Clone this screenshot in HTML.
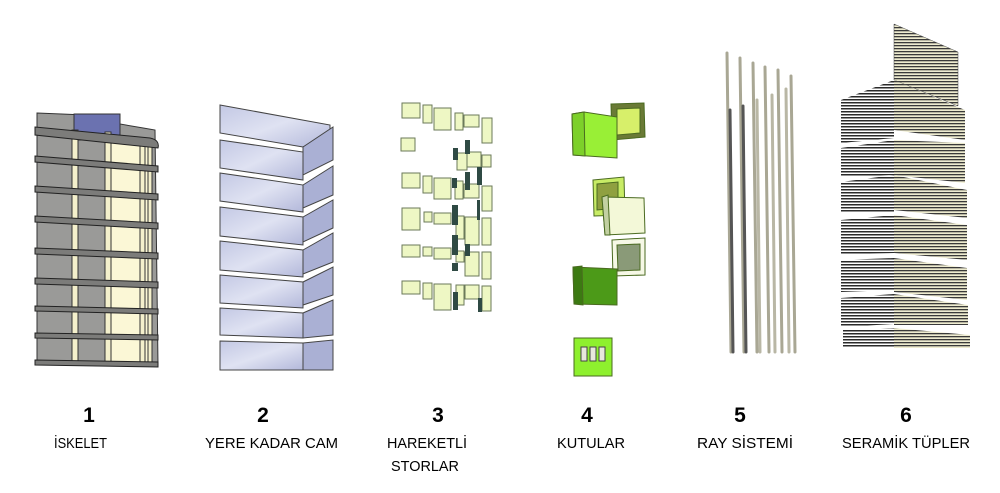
<!DOCTYPE html>
<html><head><meta charset="utf-8"><style>
html,body{margin:0;padding:0;background:#fff;}
svg{display:block}
.n{font-family:"Liberation Sans",sans-serif;font-weight:bold;font-size:21px;fill:#000;text-anchor:middle}
.t{font-family:"Liberation Sans",sans-serif;font-size:15px;fill:#000}
</style></head><body>
<svg width="1000" height="493" viewBox="0 0 1000 493" xmlns="http://www.w3.org/2000/svg">
<defs>
<linearGradient id="gl" x1="0" y1="0" x2="1" y2="1">
<stop offset="0" stop-color="#c3c8e4"/><stop offset=".5" stop-color="#dfe2f2"/><stop offset="1" stop-color="#b3b8da"/>
</linearGradient>
<pattern id="st" width="6" height="3" patternUnits="userSpaceOnUse"><rect width="6" height="3" fill="#fff"/><rect y="0" width="6" height="1.5" fill="#2a2a2a"/></pattern>
<pattern id="st2" width="6" height="3" patternUnits="userSpaceOnUse"><rect width="6" height="3" fill="#eeecd0"/><rect y="0" width="6" height="1.3" fill="#3a3a3a"/></pattern>
</defs>

<!-- Panel 1 -->
<g stroke="#333" stroke-width="1">
<path d="M37 113 L110 116 Q120 118 120 124 L155 130 L158 365 L37 362 Z" fill="#9a9a98"/>
<path d="M110 140 L150 142 L152 362 L110 362 Z" fill="#fbf7d6"/>
<rect x="74" y="114" width="46" height="26" fill="#6b72b0"/>
<rect x="72" y="130" width="6" height="232" fill="#f4f0cc"/>
<rect x="105" y="132" width="6" height="230" fill="#f4f0cc"/>
<rect x="140" y="140" width="5" height="224" fill="#f4f0cc"/>
<rect x="148" y="145" width="4" height="220" fill="#f4f0cc"/>
</g>
<g fill="#7c7c7a" stroke="#222" stroke-width="1">
<path d="M35 127 L150 138 Q160 140 158 148 L35 135 Z"/>
<path d="M35 156 L158 166 L158 172 L35 162 Z"/>
<path d="M35 186 L158 194 L158 200 L35 192 Z"/>
<path d="M35 216 L158 223 L158 229 L35 222 Z"/>
<path d="M35 248 L158 253 L158 259 L35 254 Z"/>
<path d="M35 278 L158 282 L158 288 L35 284 Z"/>
<path d="M35 306 L158 309 L158 314 L35 311 Z"/>
<path d="M35 333 L158 335 L158 340 L35 338 Z"/>
<path d="M35 360 L158 362 L158 367 L35 365 Z"/>
</g>

<!-- Panel 2 -->
<g stroke="#444" stroke-width="1" fill="url(#gl)">
<path d="M220 105 L330 125 L330 135 L303 147 L220 133 Z"/>
<path d="M220 140 L303 152 L303 180 L220 168 Z"/>
<path d="M220 173 L303 185 L303 212 L220 201 Z"/>
<path d="M220 207 L303 217 L303 245 L220 236 Z"/>
<path d="M220 241 L303 250 L303 277 L220 270 Z"/>
<path d="M220 275 L303 282 L303 308 L220 303 Z"/>
<path d="M220 308 L303 313 L303 338 L220 335 Z"/>
<path d="M220 341 L303 343 L303 370 L220 370 Z"/>
<path d="M303 147 L333 127 L333 160 L303 175 Z" fill="#aab0d4"/>
<path d="M303 185 L333 166 L333 195 L303 208 Z" fill="#aab0d4"/>
<path d="M303 217 L333 200 L333 228 L303 242 Z" fill="#aab0d4"/>
<path d="M303 250 L333 233 L333 262 L303 274 Z" fill="#aab0d4"/>
<path d="M303 282 L333 267 L333 295 L303 305 Z" fill="#aab0d4"/>
<path d="M303 313 L333 300 L333 335 L303 338 Z" fill="#aab0d4"/>
<path d="M303 343 L333 340 L333 370 L303 370 Z" fill="#aab0d4"/>
</g>

<!-- Panel 3 -->
<g fill="#eef7c4" stroke="#6b7a5a" stroke-width="1">
<rect x="402" y="103" width="18" height="15"/><rect x="423" y="105" width="9" height="18"/><rect x="434" y="108" width="17" height="22"/><rect x="455" y="113" width="8" height="17"/><rect x="464" y="115" width="15" height="12"/><rect x="482" y="118" width="10" height="25"/>
<rect x="401" y="138" width="14" height="13"/>
<rect x="457" y="153" width="10" height="17"/><rect x="467" y="152" width="14" height="15"/><rect x="482" y="155" width="9" height="12"/>
<rect x="402" y="173" width="18" height="15"/><rect x="423" y="176" width="9" height="17"/><rect x="434" y="178" width="17" height="21"/><rect x="455" y="181" width="8" height="18"/><rect x="464" y="184" width="15" height="14"/><rect x="482" y="186" width="10" height="25"/>
<rect x="402" y="208" width="18" height="22"/><rect x="424" y="212" width="8" height="10"/><rect x="434" y="213" width="17" height="11"/><rect x="456" y="216" width="8" height="23"/><rect x="465" y="217" width="14" height="28"/><rect x="482" y="218" width="9" height="27"/>
<rect x="402" y="245" width="18" height="12"/><rect x="423" y="247" width="9" height="9"/><rect x="434" y="248" width="17" height="11"/><rect x="456" y="251" width="8" height="11"/><rect x="465" y="252" width="14" height="24"/><rect x="482" y="252" width="9" height="27"/>
<rect x="402" y="281" width="18" height="13"/><rect x="423" y="283" width="9" height="16"/><rect x="434" y="284" width="17" height="26"/><rect x="456" y="285" width="8" height="20"/><rect x="465" y="285" width="14" height="14"/><rect x="482" y="286" width="9" height="25"/>
</g>
<g fill="#2f4a44">
<rect x="453" y="148" width="5" height="12"/><rect x="465" y="140" width="5" height="14"/><rect x="452" y="178" width="5" height="10"/><rect x="465" y="172" width="5" height="18"/><rect x="477" y="167" width="5" height="18"/><rect x="477" y="200" width="3" height="20"/><rect x="452" y="205" width="6" height="20"/><rect x="452" y="235" width="6" height="20"/><rect x="465" y="244" width="5" height="12"/><rect x="452" y="263" width="6" height="8"/><rect x="453" y="292" width="5" height="18"/><rect x="478" y="298" width="4" height="14"/>
</g>

<!-- Panel 4 -->
<g stroke="#4a6a20" stroke-width="1">
<path d="M611 104 L644 103 L645 137 L612 140 Z" fill="#6a7a36"/><path d="M617 109 L640 108 L640 133 L617 135 Z" fill="#d7ef6a"/>
<path d="M572 114 L584 112 L617 117 L617 158 L573 155 Z" fill="#99ef36"/><path d="M572 114 L584 112 L585 156 L573 155 Z" fill="#7dd02a"/>
<path d="M593 180 L624 177 L625 215 L594 216 Z" fill="#c8ec66"/><path d="M597 184 L618 182 L618 208 L597 210 Z" fill="#8fa040"/>
<path d="M602 197 L644 198 L645 233 L605 235 Z" fill="#f3f8d8"/><path d="M602 197 L608 195 L610 235 L605 235 Z" fill="#c2d0a2"/>
<path d="M612 240 L645 238 L645 275 L613 276 Z" fill="#f6f8e6"/><path d="M617 245 L640 244 L640 270 L618 271 Z" fill="#8a9a78"/>
<path d="M573 267 L617 269 L617 305 L574 304 Z" fill="#4c9a18"/><path d="M573 267 L582 266 L583 305 L574 304 Z" fill="#3c7a12"/>
<rect x="574" y="338" width="38" height="38" fill="#8ef02e"/>
<rect x="581" y="347" width="6" height="14" fill="#e8e8dc" stroke="#444"/><rect x="590" y="347" width="6" height="14" fill="#e8e8dc" stroke="#444"/><rect x="599" y="347" width="6" height="14" fill="#e8e8dc" stroke="#444"/>
</g>

<!-- Panel 5 -->
<g stroke="#555" stroke-width="3" stroke-linecap="round">
<line x1="727" y1="53" x2="731" y2="352" stroke="#a9a794"/><line x1="730" y1="110" x2="733" y2="352"/>
<line x1="740" y1="58" x2="744" y2="352" stroke="#a9a794"/><line x1="743" y1="106" x2="746" y2="352"/>
<line x1="753" y1="63" x2="757" y2="352" stroke="#a9a794"/><line x1="757" y1="100" x2="760" y2="352" stroke="#b9b7a5"/>
<line x1="765" y1="67" x2="769" y2="352" stroke="#a9a794"/><line x1="772" y1="95" x2="775" y2="352" stroke="#b9b7a5"/>
<line x1="778" y1="70" x2="782" y2="352" stroke="#a9a794"/><line x1="786" y1="89" x2="789" y2="352" stroke="#b9b7a5"/>
<line x1="791" y1="76" x2="795" y2="352" stroke="#a9a794"/>
</g>

<!-- Panel 6 -->
<path d="M894 24 L958 52 L958 106 L894 80 Z" fill="url(#st2)" stroke="#444" stroke-width=".5"/>
<g fill="url(#st)">
<path d="M841 100 L894 80 L894 138 L841 143 Z"/>
<path d="M841 148 L894 140 L894 175 L841 177 Z"/>
<path d="M841 182 L894 175 L894 213 L841 213 Z"/>
<path d="M841 220 L894 215 L894 253 L841 254 Z"/>
<path d="M841 260 L894 258 L894 290 L841 292 Z"/>
<path d="M841 298 L894 294 L894 324 L841 327 Z"/>
<path d="M843 330 L894 328 L894 348 L843 348 Z"/>
</g>
<g fill="url(#st2)">
<path d="M894 80 L965 110 L965 140 L894 130 Z"/>
<path d="M894 140 L965 143 L965 183 L894 175 Z"/>
<path d="M894 175 L967 190 L967 218 L894 210 Z"/>
<path d="M894 215 L967 225 L967 260 L894 253 Z"/>
<path d="M894 258 L967 268 L967 300 L894 292 Z"/>
<path d="M894 294 L968 305 L968 325 L894 325 Z"/>
<path d="M894 328 L970 335 L970 348 L894 348 Z"/>
</g>

<!-- Labels -->
<text class="n" x="89" y="422">1</text>
<text class="n" x="263" y="422">2</text>
<text class="n" x="438" y="422">3</text>
<text class="n" x="587" y="422">4</text>
<text class="n" x="740" y="422">5</text>
<text class="n" x="906" y="422">6</text>
<text class="t" x="54" y="448" textLength="53" lengthAdjust="spacingAndGlyphs">İSKELET</text>
<text class="t" x="205" y="448" textLength="133" lengthAdjust="spacingAndGlyphs">YERE KADAR CAM</text>
<text class="t" x="387" y="448" textLength="80" lengthAdjust="spacingAndGlyphs">HAREKETLİ</text>
<text class="t" x="391" y="471" textLength="68" lengthAdjust="spacingAndGlyphs">STORLAR</text>
<text class="t" x="557" y="448" textLength="68" lengthAdjust="spacingAndGlyphs">KUTULAR</text>
<text class="t" x="697" y="448" textLength="96" lengthAdjust="spacingAndGlyphs">RAY SİSTEMİ</text>
<text class="t" x="842" y="448" textLength="128" lengthAdjust="spacingAndGlyphs">SERAMİK TÜPLER</text>
</svg>
</body></html>
